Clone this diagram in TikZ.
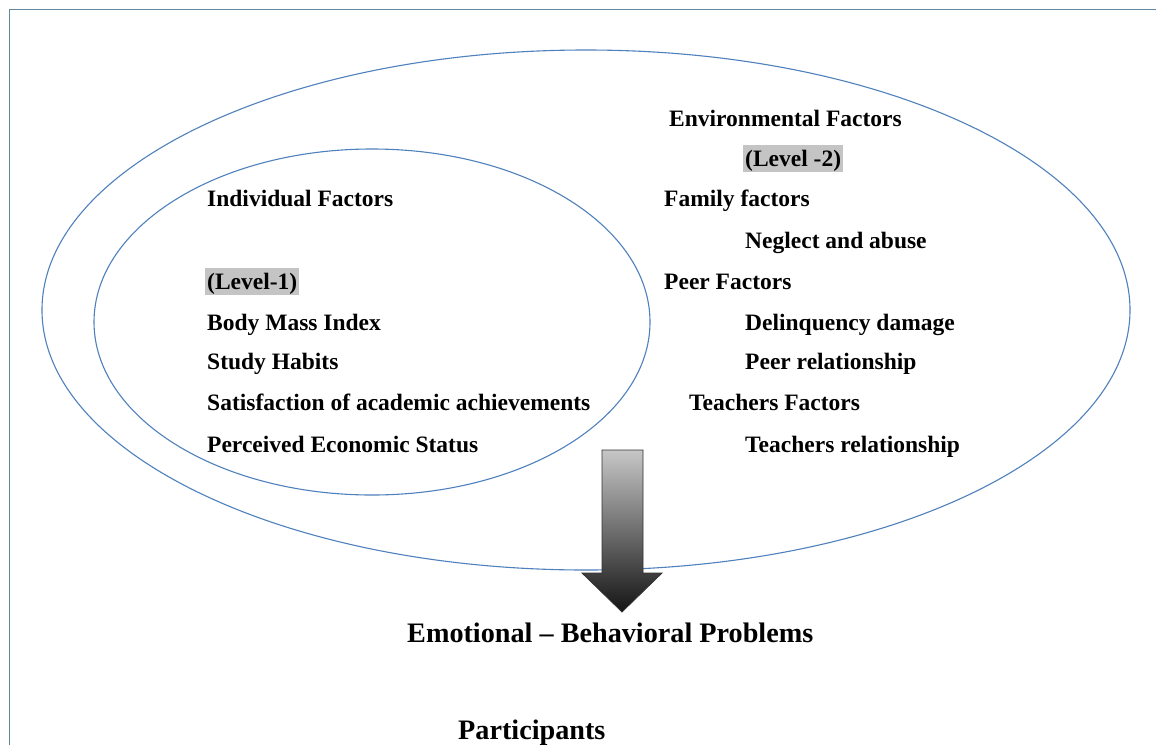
\documentclass[tikz,border=0pt]{standalone}
\usepackage{fontspec}
\setmainfont{Liberation Serif}
\usetikzlibrary{shapes.geometric}
\definecolor{ring}{RGB}{79,129,189}
\definecolor{frame}{RGB}{98,136,160}
\definecolor{mark}{RGB}{196,196,196}
\begin{document}
\begin{tikzpicture}[x=1pt,y=-1pt,
  ringline/.style={draw=ring, line width=1.1pt, ellipse, inner sep=0pt},
  lbl/.style={anchor=base west, inner sep=0pt, font=\fontsize{23.5}{26}\selectfont\bfseries},
  hl/.style={lbl, fill=mark, inner xsep=2pt, text height=21pt, text depth=6pt},
  big/.style={anchor=base west, inner sep=0pt, font=\fontsize{28.2}{32}\selectfont\bfseries},
  blockarrow/.style={draw=black!80, line width=0.8pt, top color=black!22, bottom color=black!92}]
\useasboundingbox (0,0) rectangle (1156,745);
\fill[white] (0,0) rectangle (1156,745);

% page frame
\draw[frame, line width=1.5pt] (9.5,745) -- (9.5,9.5) -- (1156,9.5);

% the two levels
\node[ringline, minimum width=1088pt, minimum height=520pt] (outer) at (586,310) {};
\node[ringline, minimum width=556pt, minimum height=346pt] (inner) at (372,322) {};

% level 1: individual factors
\node[lbl] (indiv) at (207,206) {Individual Factors};
\node[hl]  (lvone) at (205,289) {(Level-1)};
\node[lbl] (bmi)   at (207,330) {Body Mass Index};
\node[lbl] (study) at (207,369) {Study Habits};
\node[lbl] (satis) at (207,410) {Satisfaction of academic achievements};
\node[lbl] (econ)  at (207,452) {Perceived Economic Status};

% level 2: environmental factors
\node[lbl] (env)    at (669,126) {Environmental Factors};
\node[hl]  (lvtwo)  at (743,166) {(Level -2)};
\node[lbl] (family) at (664,206) {Family factors};
\node[lbl] (neglect) at (745,248) {Neglect and abuse};
\node[lbl] (peer)   at (664,289) {Peer Factors};
\node[lbl] (delinq) at (745,330) {Delinquency damage};
\node[lbl] (peerrel) at (745,369) {Peer relationship};
\node[lbl] (teach)  at (689,410) {Teachers Factors};
\node[lbl] (teachrel) at (745,452) {Teachers relationship};

% outcome
\node[big] (outcome) at (407,642) {Emotional -- Behavioral Problems};
\node[big] (part)    at (458,739) {Participants};

% block arrow from the factors to the outcome
\path[blockarrow] (602,450) -- (643,450) -- (643,573) -- (662,573)
  -- (622,612) -- (582,573) -- (602,573) -- cycle;
\end{tikzpicture}
\end{document}
